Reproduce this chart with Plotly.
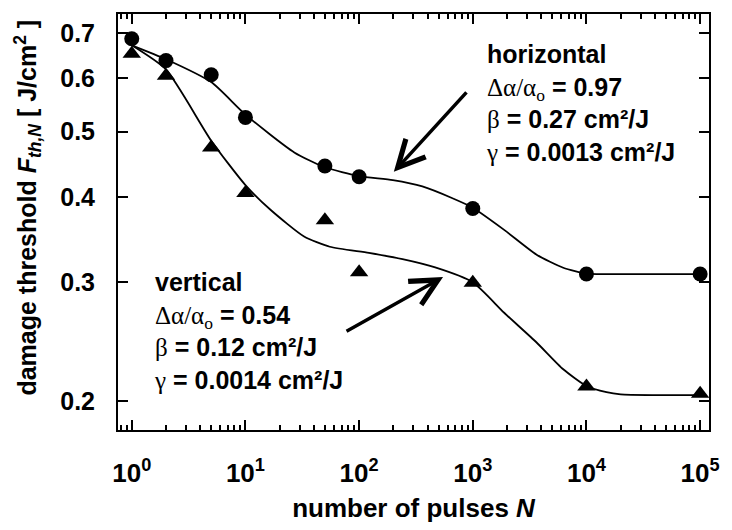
import plotly.graph_objects as go

# measured points (number of pulses N, threshold in J/cm^2)
pulses = [1, 2, 5, 10, 50, 100, 1000, 10000, 100000]
horizontal_pts = [0.686, 0.637, 0.607, 0.525, 0.445, 0.429, 0.385, 0.308, 0.308]
vertical_pts = [0.652, 0.605, 0.474, 0.406, 0.370, 0.310, 0.299, 0.210, 0.205]

# fit curves
h_fit_n = [1, 2, 5, 10, 26.9, 50, 100, 198, 360, 655, 1000, 1888, 3642, 6250, 10000,
           15000, 30000, 100000]
h_fit_f = [0.671, 0.640, 0.592, 0.530, 0.466, 0.443, 0.430, 0.424, 0.415, 0.399, 0.386,
           0.358, 0.329, 0.3147, 0.3085, 0.308, 0.308, 0.308]
v_fit_n = [1, 2, 5, 10, 16.7, 32.8, 55.2, 122, 241, 467, 1000, 1888, 3642, 6250, 10000,
           15000, 20000, 40000, 100000]
v_fit_f = [0.671, 0.618, 0.485, 0.417, 0.383, 0.350, 0.338, 0.331, 0.324, 0.315, 0.2995,
           0.270, 0.244, 0.2227, 0.2104, 0.2060, 0.2045, 0.204, 0.204]

x_ticks = [1, 10, 100, 1000, 10000, 100000]
x_ticktext = ["10<sup>0</sup>", "10<sup>1</sup>", "10<sup>2</sup>", "10<sup>3</sup>",
              "10<sup>4</sup>", "10<sup>5</sup>"]
x_minor = [0.8, 0.9] + [m * 10 ** k for k in range(5) for m in range(2, 10)]
y_ticks = [0.2, 0.3, 0.4, 0.5, 0.6, 0.7]
y_ticktext = ["0.2", "0.3", "0.4", "0.5", "0.6", "0.7"]

GREEK = "<span style=\"font-family:'Liberation Serif';font-weight:normal\">"

horiz_lines = ["horizontal",
               GREEK + "Δα/α<sub>o</sub></span> = 0.97",
               GREEK + "β</span> = 0.27 cm²/J",
               GREEK + "γ</span> = 0.0013 cm²/J"]
vert_lines = ["vertical",
              GREEK + "Δα/α<sub>o</sub></span> = 0.54",
              GREEK + "β</span> = 0.12 cm²/J",
              GREEK + "γ</span> = 0.0014 cm²/J"]

fig = go.Figure()

for xs, ys in [(h_fit_n, h_fit_f), (v_fit_n, v_fit_f)]:
    fig.add_trace(go.Scatter(x=xs, y=ys, mode="lines",
                             line=dict(color="black", width=1.8, shape="spline", smoothing=0.6),
                             showlegend=False, hoverinfo="skip"))
fig.add_trace(go.Scatter(x=pulses, y=horizontal_pts, mode="markers", name="horizontal",
                         marker=dict(symbol="circle", size=15, color="black"),
                         showlegend=False))
fig.add_trace(go.Scatter(x=pulses, y=vertical_pts, mode="markers", name="vertical",
                         marker=dict(symbol="triangle-up", size=16, color="black"),
                         showlegend=False))

fig.add_annotation(x=0.62, y=0.786, xref="paper", yref="paper", xanchor="left",
                   yanchor="middle", align="left", showarrow=False,
                   text="<br>".join(horiz_lines), font=dict(size=25))
fig.add_annotation(x=0.0567, y=0.238, xref="paper", yref="paper", xanchor="left",
                   yanchor="middle", align="left", showarrow=False,
                   text="<br>".join(vert_lines), font=dict(size=25))

# arrows pointing at the two fit curves
fig.add_annotation(x=0.4667, y=0.6205, xref="paper", yref="paper", text="",
                   showarrow=True, ax=74, ay=-81, arrowhead=5, arrowsize=1.5,
                   arrowwidth=3.5, arrowcolor="black")
fig.add_annotation(x=0.55, y=0.3675, xref="paper", yref="paper", text="",
                   showarrow=True, ax=-98, ay=55, arrowhead=5, arrowsize=1.5,
                   arrowwidth=3.5, arrowcolor="black")

fig.add_annotation(x=-0.152, y=0.535, xref="paper", yref="paper", textangle=-90,
                   showarrow=False, xanchor="center", yanchor="middle",
                   text="damage threshold <i>F</i><sub><i>th,N</i></sub> [ J/cm<sup>2</sup> ]",
                   font=dict(size=25))

fig.update_xaxes(
    type="log", range=[-0.121, 5.078],
    tickvals=x_ticks, ticktext=x_ticktext,
    ticks="inside", ticklen=10, tickwidth=2, tickcolor="black",
    minor=dict(tickvals=x_minor, ticks="inside", ticklen=5, tickwidth=1.5,
               tickcolor="black", showgrid=False),
    showline=True, linewidth=2, linecolor="black", mirror="ticks",
    showgrid=False, zeroline=False, ticklabelstandoff=19,
    tickfont=dict(size=26),
    title=dict(text="number of pulses <i>N</i>", font=dict(size=26), standoff=12),
)
fig.update_yaxes(
    type="log", range=[-0.742, -0.127],
    tickvals=y_ticks, ticktext=y_ticktext,
    ticks="inside", ticklen=10, tickwidth=2, tickcolor="black",
    showline=True, linewidth=2, linecolor="black", mirror="ticks",
    showgrid=False, zeroline=False, ticklabelstandoff=16,
    tickfont=dict(size=25),
)

fig.update_layout(
    width=732, height=530,
    margin=dict(l=118, r=14, t=13, b=98),
    plot_bgcolor="white", paper_bgcolor="white",
    font=dict(family="Liberation Sans", color="black", weight="bold"),
)

fig.write_html("out.html", config={"displayModeBar": False},
               post_script="document.body.style.margin='0px';")
